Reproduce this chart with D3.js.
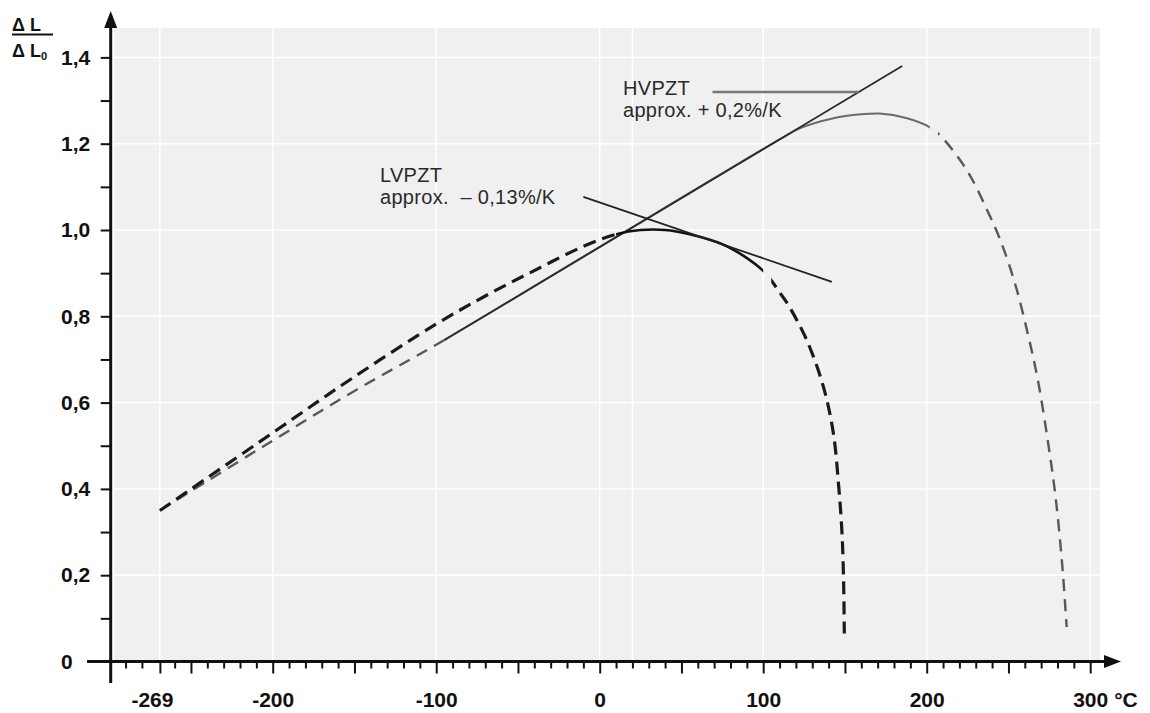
<!DOCTYPE html>
<html>
<head>
<meta charset="utf-8">
<script src="https://cdn.jsdelivr.net/npm/d3@7"></script>
<style>
  body { margin: 0; background: #fff; }
  svg { display: block; font-family: "Liberation Sans", Arial, sans-serif; }
</style>
</head>
<body>
<svg width="1150" height="713"></svg>
<script>
// ticks and grid
const xLabelTicks = [-269, -200, -100, 0, 100, 200, 300];
const xMajorTicks = [-269, -250, -200, -150, -100, -50, 0, 50, 100, 150, 200, 250, 300];
const xMinorTicks = [-290, -280, -260, -240, -230, -220, -210, -190, -180, -170, -160, -140, -130, -120, -110,
  -90, -80, -70, -60, -40, -30, -20, -10, 10, 20, 30, 40, 60, 70, 80, 90, 110, 120, 130, 140,
  160, 170, 180, 190, 210, 220, 230, 240, 260, 270, 280, 290];
const yTicks = [0, 0.1, 0.2, 0.3, 0.4, 0.5, 0.6, 0.7, 0.8, 0.9, 1.0, 1.1, 1.2, 1.3, 1.4];
const yLabelTicks = [0, 0.2, 0.4, 0.6, 0.8, 1.0, 1.2, 1.4];
const gridX = [-269, -200, -100, 0, 20, 100, 200, 300];
const gridY = [0.2, 0.4, 0.6, 0.8, 1.0, 1.2, 1.4];

// LVPZT curve (black), solid between 10 and 100 °C, dashed outside
const lvpzt = [[-269, 0.35], [-200, 0.53], [-150, 0.66], [-100, 0.782], [-70, 0.847], [-40, 0.906],
  [-10, 0.962], [10, 0.99], [25, 1.0], [40, 1.0], [55, 0.99], [75, 0.967], [88, 0.94], [100, 0.905],
  [112, 0.845], [116, 0.822], [126.6, 0.745], [136.8, 0.637], [142.9, 0.529],
  [146.2, 0.405], [148.2, 0.297], [149.2, 0.18], [149.6, 0.065]];
const lvSolid = [10, 100];

// HVPZT curve (grey), solid between -95 and 202 °C
const hvpzt = [[-269, 0.35], [-200, 0.512], [-150, 0.627], [-95, 0.745], [0, 0.961], [110, 1.21],
  [122, 1.235], [143, 1.259], [160, 1.268], [171, 1.27], [188, 1.259], [202, 1.238], [209, 1.216],
  [224.5, 1.139], [237, 1.046], [245, 0.977], [254, 0.876], [262, 0.757], [268, 0.652],
  [274, 0.513], [278.8, 0.382], [282.8, 0.228], [285.6, 0.08]];
const hvSolid = [-95, 202];

// tangents and leader
const hvTangent = [[-95, 0.745], [185, 1.38]];
const lvTangent = [[-10, 1.077], [142, 0.88]];
const hvLeader = [[69, 1.32], [158.5, 1.32]];

var svg = d3.select('svg');

var x = d3.scaleLinear().domain([-269, 300]).range([159.9, 1090.2]);
var y = d3.scaleLinear().domain([0, 1.4]).range([661.5, 57.4]);

var axisX = 110.7;

// plot background
svg.append('rect')
  .attr('x', 114).attr('y', 28)
  .attr('width', 1100 - 114).attr('height', y(0) - 28)
  .attr('fill', '#f0f0f0');

svg.selectAll('.gx').data(gridX).enter().append('line')
  .attr('x1', d => x(d)).attr('x2', d => x(d))
  .attr('y1', 28).attr('y2', y(0))
  .attr('stroke', '#fff').attr('stroke-width', 1.5);

svg.selectAll('.gy').data(gridY).enter().append('line')
  .attr('x1', 114).attr('x2', 1100)
  .attr('y1', d => y(d)).attr('y2', d => y(d))
  .attr('stroke', '#fff').attr('stroke-width', 1.5);

var line = d3.line().x(d => x(d[0])).y(d => y(d[1])).curve(d3.curveCatmullRom.alpha(0.5));
var straight = d3.line().x(d => x(d[0])).y(d => y(d[1]));

// clip paths: inside / outside a temperature range
var defs = svg.append('defs');
function makeClips(id, range) {
  defs.append('clipPath').attr('id', id + '-in')
    .append('rect').attr('x', x(range[0])).attr('y', 0)
    .attr('width', x(range[1]) - x(range[0])).attr('height', 713);
  var out = defs.append('clipPath').attr('id', id + '-out');
  out.append('rect').attr('x', 0).attr('y', 0).attr('width', x(range[0])).attr('height', 713);
  out.append('rect').attr('x', x(range[1]) + 8).attr('y', 0).attr('width', 1150 - x(range[1])).attr('height', 713);
}
makeClips('lv', lvSolid);
makeClips('hv', hvSolid);

function draw(data, gen, color, width, dash, clip) {
  svg.append('path')
    .datum(data)
    .attr('d', gen)
    .attr('fill', 'none')
    .attr('stroke', color)
    .attr('stroke-width', width)
    .attr('stroke-dasharray', dash || null)
    .attr('clip-path', clip ? `url(#${clip})` : null);
}

// HVPZT
draw(hvpzt, line, '#585858', 2.4, '12,8', 'hv-out');
draw(hvpzt, line, '#6a6a6a', 2, null, 'hv-in');
draw(hvTangent, straight, '#2a2a2a', 1.8);
draw(hvLeader, straight, '#777', 2.5);

// LVPZT
draw(lvpzt, line, '#1a1a1a', 3.2, '13,7', 'lv-out');
draw(lvpzt, line, '#111', 2.5, null, 'lv-in');
draw(lvTangent, straight, '#222', 1.8);

// axes
svg.append('line')
  .attr('x1', axisX).attr('x2', axisX)
  .attr('y1', 683).attr('y2', 24)
  .attr('stroke', '#111').attr('stroke-width', 3);
svg.append('path')
  .attr('d', `M${axisX},11 L${axisX - 6.5},28 L${axisX + 6.5},28 Z`)
  .attr('fill', '#111');

svg.append('line')
  .attr('x1', 87).attr('x2', 1108)
  .attr('y1', y(0)).attr('y2', y(0))
  .attr('stroke', '#111').attr('stroke-width', 3);
svg.append('path')
  .attr('d', `M1121,${y(0)} L1104,${y(0) - 6.5} L1104,${y(0) + 6.5} Z`)
  .attr('fill', '#111');

// x ticks
var xMinor = svg.append('g').attr('transform', `translate(0,${y(0)})`)
  .call(d3.axisBottom(x).tickValues(xMinorTicks).tickSize(7).tickFormat(''));
var xMajor = svg.append('g').attr('transform', `translate(0,${y(0)})`)
  .call(d3.axisBottom(x).tickValues(xMajorTicks).tickSize(12)
    .tickFormat(d => xLabelTicks.includes(d) ? String(d) : ''));
[xMinor, xMajor].forEach(g => {
  g.select('.domain').remove();
  g.selectAll('.tick line').attr('stroke', '#111').attr('stroke-width', 2);
});
xMajor.selectAll('.tick text')
  .attr('y', 31)
  .attr('dx', d => d === -269 ? -8 : 0)
  .attr('fill', '#111')
  .style('font-size', '21px')
  .style('font-weight', 'bold')
  .style('font-family', '"Liberation Sans", Arial, sans-serif');

svg.append('text')
  .attr('x', x(300) + 24).attr('y', 707)
  .style('font-size', '21px').style('font-weight', 'bold')
  .attr('fill', '#111')
  .text('°C');

// y ticks
var yAx = svg.append('g').attr('transform', `translate(${axisX},0)`)
  .call(d3.axisLeft(y).tickValues(yTicks).tickSize(10)
    .tickFormat(d => yLabelTicks.some(v => Math.abs(v - d) < 1e-6) ? (d === 0 ? '0' : d.toFixed(1).replace('.', ',')) : ''));
yAx.select('.domain').remove();
yAx.selectAll('.tick line').attr('stroke', '#111').attr('stroke-width', 2);
yAx.selectAll('.tick text')
  .attr('x', 61 - axisX)
  .attr('text-anchor', 'start')
  .attr('fill', '#111')
  .style('font-size', '21px')
  .style('font-weight', 'bold')
  .style('font-family', '"Liberation Sans", Arial, sans-serif');

// y label fraction
var lab = svg.append('g').attr('fill', '#111').style('font-weight', 'bold').style('font-size', '18px');
lab.append('text').attr('x', 12).attr('y', 31).text('Δ L');
lab.append('line').attr('x1', 12).attr('x2', 53).attr('y1', 34.5).attr('y2', 34.5)
  .attr('stroke', '#111').attr('stroke-width', 2);
var t2 = lab.append('text').attr('x', 12).attr('y', 56.5);
t2.append('tspan').text('Δ L');
t2.append('tspan').attr('dy', 3).style('font-size', '11px').text('0');

// annotations
var ann = svg.append('g').attr('fill', '#2a2a2a').style('font-size', '20px').style('letter-spacing', '0.3px');
ann.append('text').attr('x', 623).attr('y', 95).text('HVPZT');
ann.append('text').attr('x', 623).attr('y', 117).text('approx. + 0,2%/K');
ann.append('text').attr('x', 380).attr('y', 182).text('LVPZT');
ann.append('text').attr('x', 380).attr('y', 203.5).text('approx.\u00a0 – 0,13%/K');
</script>
</body>
</html>
